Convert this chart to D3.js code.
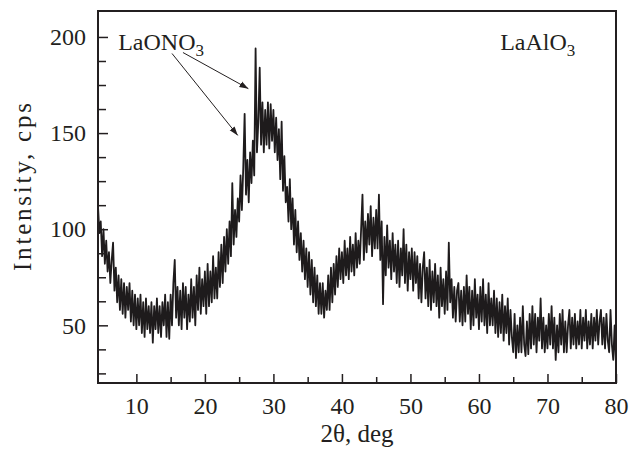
<!DOCTYPE html>
<html>
<head>
<meta charset="utf-8">
<script src="https://cdn.jsdelivr.net/npm/d3@7"></script>
<style>
  body { margin: 0; background: #fff; }
  text { font-family: "Liberation Serif", "Times New Roman", serif; fill: #231f20; }
</style>
</head>
<body>
<div id="canvas"></div>
<script>
// Scan grid of the diffractometer: first angle and step, degrees.
const TWO_THETA_START = 4.4;
const TWO_THETA_STEP = 0.2;

// Intensity, one row per degree (cps).
const intensity = [
  112, 98, 104,                  // 4.4 - 4.8
  86, 100, 82, 94, 78,           // 5
  88, 72, 84, 93, 68,            // 6
  80, 62, 76, 58, 74,            // 7
  56, 72, 54, 70, 58,            // 8
  72, 52, 68, 50, 66,            // 9
  48, 64, 50, 66, 46,            // 10
  62, 44, 64, 48, 60,            // 11
  46, 62, 41, 60, 48,            // 12
  64, 46, 60, 44, 62,            // 13
  50, 66, 44, 62, 43,            // 14
  66, 50, 72, 84, 54,            // 15
  70, 50, 68, 48, 72,            // 16
  54, 70, 48, 66, 52,            // 17
  74, 54, 70, 50, 76,            // 18
  58, 80, 56, 74, 60,            // 19
  78, 56, 82, 60, 78,            // 20
  62, 86, 64, 80, 64,            // 21
  88, 70, 92, 72, 96,            // 22
  78, 100, 82, 104, 86,          // 23
  124, 92, 110, 96, 116,         // 24
  104, 128, 110, 132, 160,       // 25
  118, 136, 114, 140, 124,       // 26
  146, 128, 194, 140, 156,       // 27
  184, 144, 166, 140, 162,       // 28
  144, 166, 142, 165, 146,       // 29
  162, 140, 158, 136, 152,       // 30
  126, 156, 120, 138, 114,       // 31
  122, 104, 126, 100, 116,       // 32
  92, 110, 88, 104, 84,          // 33
  98, 78, 94, 74, 90,            // 34
  70, 88, 66, 84, 62,            // 35
  80, 60, 76, 56, 72,            // 36
  56, 72, 54, 68, 58,            // 37
  76, 58, 80, 62, 82,            // 38
  66, 86, 70, 90, 74,            // 39
  88, 72, 94, 76, 90,            // 40
  74, 96, 78, 92, 76,            // 41
  98, 80, 94, 82, 100,           // 42
  118, 84, 104, 88, 108,         // 43
  92, 112, 86, 106, 90,          // 44
  110, 90, 118, 84, 104,         // 45
  61, 96, 76, 102, 80,           // 46
  94, 74, 98, 78, 92,            // 47
  72, 94, 70, 90, 76,            // 48
  100, 72, 92, 68, 88,           // 49
  74, 90, 68, 88, 72,            // 50
  86, 64, 82, 62, 80,            // 51
  88, 64, 80, 60, 84,            // 52
  58, 78, 62, 82, 60,            // 53
  76, 54, 80, 60, 74,            // 54
  56, 78, 58, 93, 62,            // 55
  74, 54, 70, 52, 68,            // 56
  72, 52, 68, 50, 70,            // 57
  52, 76, 56, 70, 48,            // 58
  68, 50, 74, 54, 66,            // 59
  48, 70, 52, 74, 50,            // 60
  66, 46, 72, 50, 64,            // 61
  50, 68, 46, 64, 44,            // 62
  62, 46, 66, 42, 60,            // 63
  46, 64, 40, 58, 44,            // 64
  36, 56, 33, 50, 36,            // 65
  54, 36, 60, 40, 34,            // 66
  52, 35, 56, 38, 60,            // 67
  40, 56, 36, 54, 42,            // 68
  64, 38, 54, 36, 50,            // 69
  38, 56, 40, 60, 38,            // 70
  54, 32, 50, 36, 56,            // 71
  40, 58, 36, 52, 36,            // 72
  50, 58, 38, 54, 40,            // 73
  56, 38, 52, 40, 58,            // 74
  38, 54, 42, 58, 38,            // 75
  52, 40, 56, 38, 54,            // 76
  42, 58, 40, 52, 58,            // 77
  40, 54, 38, 56, 42,            // 78
  36, 58, 40, 32, 50,            // 79
  30                             // 80
];

// Axis ticks.
const xMajorTicks = [10, 20, 30, 40, 50, 60, 70, 80];
const xMinorTicks = [15, 25, 35, 45, 55, 65, 75];
const yMajorTicks = [50, 100, 150, 200];
const yMinorTicks = [25, 37.5, 62.5, 75, 87.5, 112.5, 125, 137.5, 162.5, 175, 187.5];

// Phase labels and the arrows pointing at the nitrate reflections (data units).
const labels = [
  { text: "LaONO", sub: "3", x: 7.35, y: 193 },
  { text: "LaAlO", sub: "3", x: 63.1, y: 193 }
];
const arrows = [
  { from: [15.2, 191.4], to: [24.8, 148.8] },
  { from: [16.8, 191.9], to: [26.35, 173.1] }
];

// Chart geometry.
const w = 633, h = 452;
const margin = { top: 11, right: 17, bottom: 69, left: 98 };

const svg = d3.select("#canvas")
    .append("svg")
    .attr("width", w)
    .attr("height", h);

const xScale = d3.scaleLinear()
    .domain([TWO_THETA_START, 80])
    .range([margin.left, w - margin.right]);

const yScale = d3.scaleLinear()
    .domain([20, 213.5])
    .range([h - margin.bottom, margin.top]);

const points = intensity.map((v, i) => [TWO_THETA_START + i * TWO_THETA_STEP, v]);

// The pattern itself, clipped to the frame.
svg.append("clipPath").attr("id", "plot-clip")
    .append("rect")
    .attr("x", margin.left).attr("y", margin.top)
    .attr("width", w - margin.left - margin.right)
    .attr("height", h - margin.top - margin.bottom);

svg.append("path")
    .datum(points)
    .attr("clip-path", "url(#plot-clip)")
    .attr("fill", "none")
    .attr("stroke", "#1e1b1c")
    .attr("stroke-width", 1.8)
    .attr("stroke-linejoin", "round")
    .attr("d", d3.line().x(d => xScale(d[0])).y(d => yScale(d[1])));

// Axes: ticks point into the plot.
svg.append("g")
    .attr("transform", `translate(0,${h - margin.bottom})`)
    .call(d3.axisBottom(xScale).tickValues(xMajorTicks).tickSize(-9).tickPadding(14));
svg.append("g")
    .attr("transform", `translate(0,${h - margin.bottom})`)
    .call(d3.axisBottom(xScale).tickValues(xMinorTicks).tickSize(-6).tickFormat(""));

svg.append("g")
    .attr("transform", `translate(${margin.left},0)`)
    .call(d3.axisLeft(yScale).tickValues(yMajorTicks).tickSize(-10).tickPadding(12));
svg.append("g")
    .attr("transform", `translate(${margin.left},0)`)
    .call(d3.axisLeft(yScale).tickValues(yMinorTicks).tickSize(-8).tickFormat(""));

svg.selectAll(".domain").remove();
svg.selectAll(".tick line").attr("stroke", "#231f20").attr("stroke-width", 1.5);
svg.selectAll(".tick text")
    .attr("font-size", 24)
    .attr("font-family", "Liberation Serif, serif")
    .attr("fill", "#231f20");

// Frame round the plot.
svg.append("rect")
    .attr("x", margin.left)
    .attr("y", margin.top)
    .attr("width", w - margin.left - margin.right)
    .attr("height", h - margin.top - margin.bottom)
    .attr("fill", "none")
    .attr("stroke", "#231f20")
    .attr("stroke-width", 2);

// Axis titles.
svg.append("text")
    .attr("x", (margin.left + w - margin.right) / 2)
    .attr("y", 442)
    .attr("text-anchor", "middle")
    .attr("font-size", 25)
    .text("2θ, deg");

svg.append("text")
    .attr("transform", `translate(31,${(margin.top + h - margin.bottom) / 2 - 10}) rotate(-90)`)
    .attr("text-anchor", "middle")
    .attr("font-size", 25)
    .attr("textLength", 168)
    .attr("lengthAdjust", "spacing")
    .text("Intensity, cps");

// Phase labels with subscripts.
labels.forEach(l => {
    const t = svg.append("text")
        .attr("x", xScale(l.x))
        .attr("y", yScale(l.y))
        .attr("font-size", 24);
    t.append("tspan").text(l.text);
    t.append("tspan").attr("font-size", 17).attr("dy", 6).text(l.sub);
});

// Arrows.
svg.append("defs").append("marker")
    .attr("id", "head")
    .attr("viewBox", "0 0 10 10")
    .attr("refX", 10).attr("refY", 5)
    .attr("markerWidth", 9).attr("markerHeight", 9)
    .attr("markerUnits", "userSpaceOnUse")
    .attr("orient", "auto")
    .append("path")
    .attr("d", "M0,1.5 L10,5 L0,8.5 Z")
    .attr("fill", "#231f20");

svg.selectAll(".arrow")
    .data(arrows)
    .enter()
    .append("line")
    .attr("class", "arrow")
    .attr("x1", d => xScale(d.from[0]))
    .attr("y1", d => yScale(d.from[1]))
    .attr("x2", d => xScale(d.to[0]))
    .attr("y2", d => yScale(d.to[1]))
    .attr("stroke", "#231f20")
    .attr("stroke-width", 1)
    .attr("marker-end", "url(#head)");
</script>
</body>
</html>
